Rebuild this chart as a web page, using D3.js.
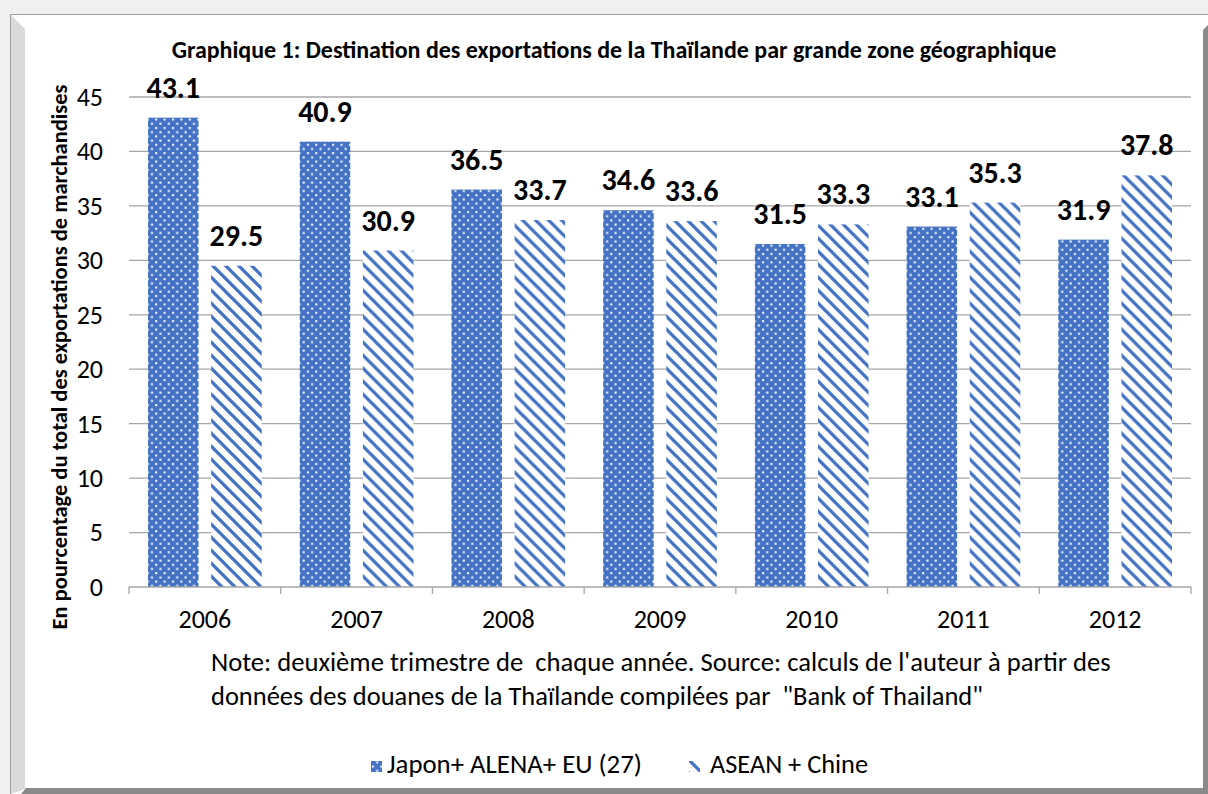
<!DOCTYPE html>
<html>
<head>
<meta charset="utf-8">
<script src="https://cdn.jsdelivr.net/npm/d3@7"></script>
<style>
  html, body { margin: 0; padding: 0; background: #f0f0f0; }
  svg { display: block; }
  text { font-family: Carlito, Lato, sans-serif; fill: #000; }
</style>
</head>
<body>
<div id="chart"></div>
<script>
// data
const years = ['2006', '2007', '2008', '2009', '2010', '2011', '2012']
const seriesNames = ['Japon+ ALENA+ EU (27)', 'ASEAN + Chine']
const japonAlenaEu = [43.1, 40.9, 36.5, 34.6, 31.5, 33.1, 31.9]
const aseanChine = [29.5, 30.9, 33.7, 33.6, 33.3, 35.3, 37.8]
const yTicks = [0, 5, 10, 15, 20, 25, 30, 35, 40, 45]

const titleText = 'Graphique 1: Destination des exportations de la Thaïlande par grande zone géographique'
const yLabelText = 'En pourcentage du total des exportations de marchandises'
const noteLines = [
  'Note: deuxième trimestre de  chaque année. Source: calculs de l\'auteur à partir des',
  'données des douanes de la Thaïlande compilées par  "Bank of Thailand"'
]

const W = 1208, H = 794
const blue = '#4472c4'
const gridColor = '#a6a6a6'

const rows = years.map((y, i) => ({ year: y, values: [japonAlenaEu[i], aseanChine[i]] }))

const svg = d3.select('#chart').append('svg')
  .attr('width', W)
  .attr('height', H)

// patterns
const defs = svg.append('defs')
const dots = defs.append('pattern')
  .attr('id', 'dots')
  .attr('patternUnits', 'userSpaceOnUse')
  .attr('width', 8.4).attr('height', 8.4)
dots.append('rect').attr('width', 8.4).attr('height', 8.4).attr('fill', blue)
dots.append('rect').attr('x', 1).attr('y', 1).attr('width', 2).attr('height', 2).attr('fill', '#fff')
dots.append('rect').attr('x', 5.2).attr('y', 5.2).attr('width', 2).attr('height', 2).attr('fill', '#fff')

const hatch = defs.append('pattern')
  .attr('id', 'hatch')
  .attr('patternUnits', 'userSpaceOnUse')
  .attr('width', 13).attr('height', 13)
hatch.append('rect').attr('width', 13).attr('height', 13).attr('fill', '#fff')
hatch.append('path')
  .attr('d', 'M-3,-3L16,16M10,-3L16,3M-3,10L3,16')
  .attr('stroke', blue)
  .attr('stroke-width', 3.3)

const fills = ['url(#dots)', 'url(#hatch)']

// frame of the picture
svg.append('rect')
  .attr('x', 10.5).attr('y', 14.5)
  .attr('width', W - 10).attr('height', H - 14)
  .attr('fill', '#fff')
  .attr('stroke', '#a0a0a0')
svg.append('polygon')
  .attr('points', '11,15 25,29 25,789 11,794')
  .attr('fill', '#dadada')
svg.append('polygon')
  .attr('points', '1203,30 1208,25 1208,794 1203,794')
  .attr('fill', '#8a8a8a')
svg.append('polygon')
  .attr('points', '21,794 26,788 1208,788 1208,794')
  .attr('fill', '#8a8a8a')

// scales
const x0 = d3.scaleBand()
  .domain(years)
  .range([129, 1191])

const x1 = d3.scaleBand()
  .domain(seriesNames)
  .range([19, x0.bandwidth() - 19])
  .paddingInner(0.2)

const y = d3.scaleLinear()
  .domain([0, 45])
  .range([587, 97])

// grid lines
svg.append('g').classed('grid', true)
  .selectAll('line')
  .data(yTicks.filter(d => d > 0))
  .join('line')
    .attr('x1', 129).attr('x2', 1191)
    .attr('y1', d => y(d)).attr('y2', d => y(d))
    .attr('stroke', gridColor)
    .attr('stroke-width', 1.3)

// y tick labels
svg.append('g').classed('y-labels', true)
  .selectAll('text')
  .data(yTicks)
  .join('text')
    .attr('x', 103)
    .attr('y', d => y(d))
    .attr('dy', '0.34em')
    .attr('text-anchor', 'end')
    .style('font-size', '26px')
    .text(d => d)

// bars
const groups = svg.append('g').classed('bars', true)
  .selectAll('g')
  .data(rows)
  .join('g')
    .attr('transform', d => `translate(${x0(d.year)},0)`)

groups.selectAll('rect')
  .data(d => d.values.map((v, i) => ({ key: seriesNames[i], i, v })))
  .join('rect')
    .attr('x', d => x1(d.key))
    .attr('y', d => y(d.v))
    .attr('width', x1.bandwidth())
    .attr('height', d => y(0) - y(d.v))
    .attr('fill', d => fills[d.i])

groups.selectAll('text.value')
  .data(d => d.values.map((v, i) => ({ key: seriesNames[i], i, v })))
  .join('text')
    .classed('value', true)
    .attr('x', d => x1(d.key) + x1.bandwidth() / 2)
    .attr('y', d => y(d.v) - 20)
    .attr('text-anchor', 'middle')
    .style('font-size', '30px')
    .style('font-weight', 'bold')
    .text(d => d.v.toFixed(1))

// x axis
const xAxis = svg.append('g').classed('x-axis', true)
xAxis.append('line')
  .attr('x1', 129).attr('x2', 1191)
  .attr('y1', y(0)).attr('y2', y(0))
  .attr('stroke', gridColor)
  .attr('stroke-width', 1.3)
xAxis.selectAll('line.tick')
  .data(years.map(d => x0(d)).concat([x0.range()[1]]))
  .join('line')
    .classed('tick', true)
    .attr('x1', d => d).attr('x2', d => d)
    .attr('y1', y(0)).attr('y2', y(0) + 7)
    .attr('stroke', gridColor)
    .attr('stroke-width', 1.3)
xAxis.selectAll('text')
  .data(years)
  .join('text')
    .attr('x', d => x0(d) + x0.bandwidth() / 2)
    .attr('y', 628)
    .attr('text-anchor', 'middle')
    .style('font-size', '26px')
    .text(d => d)

// fit a text element to a target width
function fitWidth(sel, target) {
  sel.each(function() {
    const size = parseFloat(this.style.fontSize)
    const len = this.getComputedTextLength()
    d3.select(this).style('font-size', (size * target / len).toFixed(2) + 'px')
  })
}

// title
svg.append('text')
  .attr('x', 614)
  .attr('y', 58)
  .attr('text-anchor', 'middle')
  .style('font-size', '18px')
  .style('font-weight', 'bold')
  .text(titleText)
  .call(fitWidth, 885)

// y axis title
svg.append('text')
  .attr('transform', 'translate(67,357) rotate(-90)')
  .attr('text-anchor', 'middle')
  .style('font-size', '17px')
  .style('font-weight', 'bold')
  .text(yLabelText)
  .call(fitWidth, 545)

// note below the axis
svg.append('g').classed('note', true)
  .selectAll('text')
  .data(noteLines)
  .join('text')
    .attr('x', 211)
    .attr('y', (d, i) => 671 + i * 34)
    .style('font-size', '21px')
    .style('white-space', 'pre')
    .text(d => d)
    .each(function(d, i) { d3.select(this).call(fitWidth, i === 0 ? 900 : 772) })

// legend
const legendX = [371, 689]
const legendW = [255, 158]
const legend = svg.append('g').classed('legend', true)
  .selectAll('g')
  .data(seriesNames)
  .join('g')
    .attr('transform', (d, i) => `translate(${legendX[i]},773)`)
legend.append('rect')
  .attr('x', 0).attr('y', -12)
  .attr('width', 11).attr('height', 11)
  .attr('fill', (d, i) => fills[i])
legend.append('text')
  .attr('x', (d, i) => i === 0 ? 16 : 21)
  .attr('y', 0)
  .style('font-size', '22px')
  .text(d => d)
  .each(function(d, i) { d3.select(this).call(fitWidth, legendW[i]) })
</script>
</body>
</html>
